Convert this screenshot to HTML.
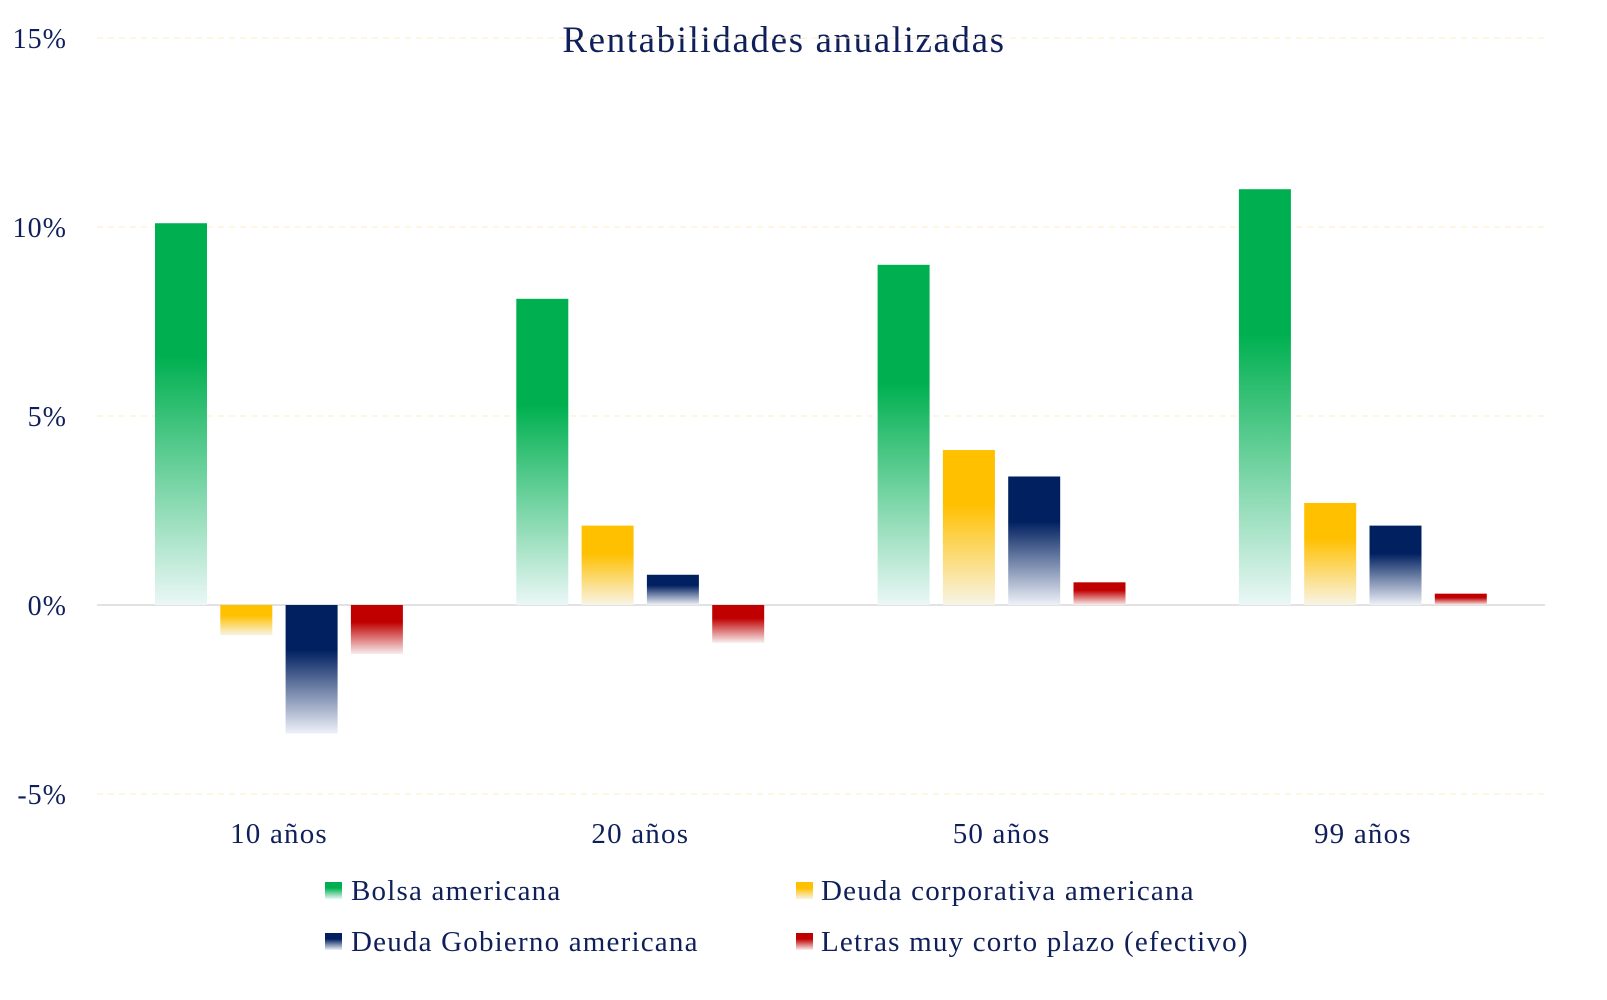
<!DOCTYPE html>
<html><head><meta charset="utf-8"><style>
body{margin:0;background:#fff;}
svg{display:block;font-family:"Liberation Serif",serif;}
</style></head><body>
<svg id="chart" width="1607" height="1000" viewBox="0 0 1607 1000">
<defs>
<linearGradient id="g-green" x1="0" y1="0" x2="0" y2="1"><stop offset="0" stop-color="#00b050"/><stop offset="0.35" stop-color="#00b050"/><stop offset="1" stop-color="#eaf7f6"/></linearGradient>
<linearGradient id="g-yellow" x1="0" y1="0" x2="0" y2="1"><stop offset="0" stop-color="#ffc000"/><stop offset="0.35" stop-color="#ffc000"/><stop offset="1" stop-color="#f8f4e6"/></linearGradient>
<linearGradient id="g-navy" x1="0" y1="0" x2="0" y2="1"><stop offset="0" stop-color="#002060"/><stop offset="0.35" stop-color="#002060"/><stop offset="1" stop-color="#eef1f8"/></linearGradient>
<linearGradient id="g-red" x1="0" y1="0" x2="0" y2="1"><stop offset="0" stop-color="#c00000"/><stop offset="0.35" stop-color="#c00000"/><stop offset="1" stop-color="#f8eeee"/></linearGradient>
</defs>
<text x="784" y="52" text-anchor="middle" font-size="37" letter-spacing="1.6" fill="#0f1f5a">Rentabilidades anualizadas</text>
<g id="grid"></g><g id="bars"></g><g id="xlabels"></g>
<g font-size="29" letter-spacing="1.2" fill="#0f1f5a">
<rect x="325" y="882" width="17" height="17" fill="url(#g-green)"/>
<text x="351" y="900">Bolsa americana</text>
<rect x="796" y="882" width="17" height="17" fill="url(#g-yellow)"/>
<text x="821" y="900">Deuda corporativa americana</text>
<rect x="325" y="933" width="17" height="17" fill="url(#g-navy)"/>
<text x="351" y="951">Deuda Gobierno americana</text>
<rect x="796" y="933" width="17" height="17" fill="url(#g-red)"/>
<text x="821" y="951">Letras muy corto plazo (efectivo)</text>
</g>
</svg>
<script>
const categories = ["10 años","20 años","50 años","99 años"];
const bolsa = [10.1, 8.1, 9.0, 11.0];
const corporativa = [-0.8, 2.1, 4.1, 2.7];
const gobierno = [-3.4, 0.8, 3.4, 2.1];
const letras = [-1.3, -1.0, 0.6, 0.3];
const yTicks = [-5, 0, 5, 10, 15];
const yTickLabels = ["-5%","0%","5%","10%","15%"];

const NS = "http://www.w3.org/2000/svg";
function y(v){ return 605 - v * 37.8; }
function groupCenter(i){ return 279 + i * 361.3; }
const series = [
  {vals: bolsa, fill: "g-green", name: "bolsa"},
  {vals: corporativa, fill: "g-yellow", name: "corporativa"},
  {vals: gobierno, fill: "g-navy", name: "gobierno"},
  {vals: letras, fill: "g-red", name: "letras"}
];
const grid = document.getElementById("grid");
yTicks.forEach((t, i) => {
  const l = document.createElementNS(NS, "line");
  
  
  l.setAttribute("x1", 97); l.setAttribute("x2", 1545);
  l.setAttribute("y1", y(t)); l.setAttribute("y2", y(t));
  if (t === 0) { l.setAttribute("stroke", "#d9d9d9"); l.setAttribute("stroke-width", "1.5"); }
  else { l.setAttribute("stroke", "#fbeec0"); l.setAttribute("stroke-dasharray", "6,5"); }
  grid.appendChild(l);
  const tx = document.createElementNS(NS, "text");
  
  
  tx.setAttribute("x", 67); tx.setAttribute("y", y(t) + 10);
  tx.setAttribute("text-anchor", "end"); tx.setAttribute("font-size", "28");
  tx.setAttribute("letter-spacing", "1");
  tx.setAttribute("fill", "#0f1f5a");
  tx.textContent = yTickLabels[i];
  grid.appendChild(tx);
});
const bars = document.getElementById("bars");
categories.forEach((c, i) => {
  series.forEach((s, j) => {
    const v = s.vals[i];
    const r = document.createElementNS(NS, "rect");
    
    
    const x = groupCenter(i) - 124 + j * 65.3;
    r.setAttribute("x", x); r.setAttribute("width", 52);
    const top = Math.min(y(v), y(0));
    r.setAttribute("y", top); r.setAttribute("height", Math.abs(y(v) - y(0)));
    r.setAttribute("fill", "url(#" + s.fill + ")");
    bars.appendChild(r);
  });
  const t = document.createElementNS(NS, "text");
  
  
  t.setAttribute("x", groupCenter(i)); t.setAttribute("y", 843);
  t.setAttribute("text-anchor", "middle"); t.setAttribute("font-size", "29");
  t.setAttribute("letter-spacing", "1.2");
  t.setAttribute("fill", "#0f1f5a");
  t.textContent = c;
  document.getElementById("xlabels").appendChild(t);
});
</script>
</body></html>
